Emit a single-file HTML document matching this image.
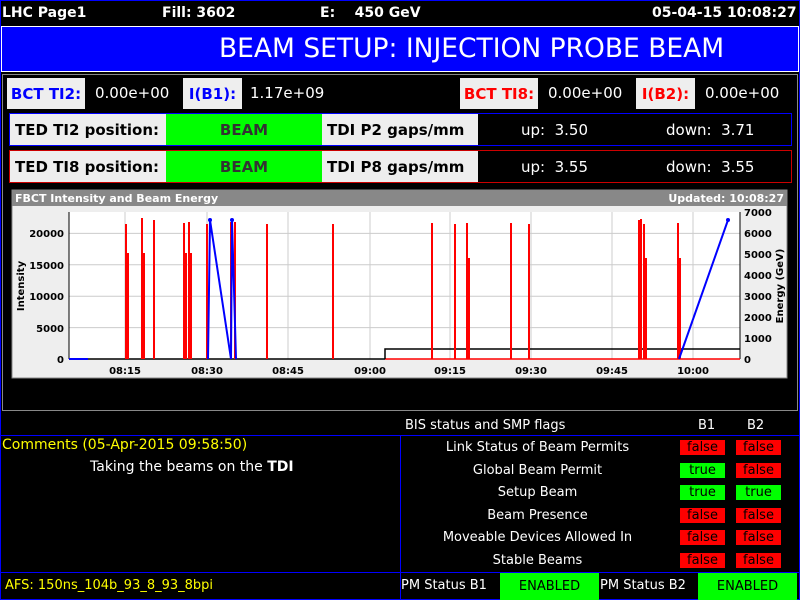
<!DOCTYPE html>
<html><head><meta charset="utf-8"><style>
*{margin:0;padding:0;box-sizing:border-box}
body{width:800px;height:600px;background:#000;position:relative;overflow:hidden;font-family:"DejaVu Sans","Liberation Sans",sans-serif;color:#fff}
.a{position:absolute;white-space:nowrap}
.b{font-weight:bold}
.lbl{background:#eee;font-weight:bold;font-size:15px;display:flex;align-items:center;justify-content:center}
.val{font-size:15px}
.row{position:absolute;left:9px;width:783px;height:33px}
.cell{position:absolute;top:0;height:31px;display:flex;align-items:center;font-size:15px}
.badge{position:absolute;width:45px;height:15px;font-size:13px;color:#000;text-align:center;line-height:15px}
.r{background:#f00}.g{background:#0f0}
.fl{position:absolute;left:400px;width:275px;text-align:center;font-size:13px}
</style></head><body>
<div class="a" style="left:0;top:0;width:800px;height:600px;border:1px solid #00f"></div>
<div class="a b" style="left:2px;top:5px;font-size:14px">LHC Page1</div>
<div class="a b" style="left:162px;top:5px;font-size:14px">Fill: 3602</div>
<div class="a b" style="left:320px;top:5px;font-size:14px">E:&nbsp;&nbsp;&nbsp;&nbsp;450 GeV</div>
<div class="a b" style="left:652px;top:5px;font-size:14px">05-04-15 10:08:27</div>
<div class="a" style="left:1px;top:26px;width:798px;height:46px;background:#00f;border:1px solid #fff"></div>
<div class="a" style="left:219px;top:31px;font-size:26.5px;line-height:36px">BEAM SETUP: INJECTION PROBE BEAM</div>
<div class="a" style="left:2px;top:74px;width:796px;height:337px;border:1px solid #888"></div>
<div class="a lbl" style="left:7px;top:78px;width:78px;height:31px;color:#00f">BCT TI2:</div>
<div class="a val" style="left:95px;top:84px">0.00e+00</div>
<div class="a lbl" style="left:183px;top:78px;width:59px;height:31px;color:#00f">I(B1):</div>
<div class="a val" style="left:250px;top:84px">1.17e+09</div>
<div class="a lbl" style="left:460px;top:78px;width:78px;height:31px;color:#f00">BCT TI8:</div>
<div class="a val" style="left:548px;top:84px">0.00e+00</div>
<div class="a lbl" style="left:636px;top:78px;width:59px;height:31px;color:#f00">I(B2):</div>
<div class="a val" style="left:705px;top:84px">0.00e+00</div>

<div class="row" style="top:113px;border:1px solid #00f">
<div class="cell b" style="left:0;width:156px;background:#eee;color:#000;padding-left:5px">TED TI2 position:</div>
<div class="cell b" style="left:156px;width:156px;background:#0f0;color:#333;justify-content:center">BEAM</div>
<div class="cell b" style="left:312px;width:156px;background:#eee;color:#000;padding-left:5px">TDI P2 gaps/mm</div>
<div class="cell" style="left:511px">up:&nbsp;&nbsp;3.50</div>
<div class="cell" style="left:656px">down:&nbsp;&nbsp;3.71</div>
</div>
<div class="row" style="top:150px;border:1px solid #c00">
<div class="cell b" style="left:0;width:156px;background:#eee;color:#000;padding-left:5px">TED TI8 position:</div>
<div class="cell b" style="left:156px;width:156px;background:#0f0;color:#333;justify-content:center">BEAM</div>
<div class="cell b" style="left:312px;width:156px;background:#eee;color:#000;padding-left:5px">TDI P8 gaps/mm</div>
<div class="cell" style="left:511px">up:&nbsp;&nbsp;3.55</div>
<div class="cell" style="left:656px">down:&nbsp;&nbsp;3.55</div>
</div>

<svg class="a" style="left:0;top:0" width="800" height="600" font-family="DejaVu Sans, sans-serif">
<rect x="12" y="190" width="775" height="188" fill="#eee" stroke="#888"/>
<rect x="12" y="190" width="775" height="16" fill="#888"/>
<text x="15" y="202" font-size="11" fill="#fff" font-weight="bold">FBCT Intensity and Beam Energy</text>
<text x="784" y="202" font-size="11" fill="#fff" font-weight="bold" text-anchor="end">Updated: 10:08:27</text>
<rect x="69" y="212" width="671" height="147" fill="#fff"/>
<g stroke="#ccc" stroke-width="1">
<line x1="69" x2="740" y1="327.6" y2="327.6"/><line x1="69" x2="740" y1="296.2" y2="296.2"/><line x1="69" x2="740" y1="264.8" y2="264.8"/><line x1="69" x2="740" y1="233.4" y2="233.4"/>
<line x1="125" x2="125" y1="212" y2="359"/><line x1="207" x2="207" y1="212" y2="359"/><line x1="288" x2="288" y1="212" y2="359"/><line x1="370" x2="370" y1="212" y2="359"/><line x1="450" x2="450" y1="212" y2="359"/><line x1="531" x2="531" y1="212" y2="359"/><line x1="612" x2="612" y1="212" y2="359"/><line x1="693" x2="693" y1="212" y2="359"/>
</g>
<g stroke="#000"><line x1="69" y1="212" x2="69" y2="359"/><line x1="740" y1="212" x2="740" y2="359"/><line x1="69" y1="359" x2="740" y2="359"/></g>
<g font-size="10" font-weight="bold" fill="#000" text-anchor="end">
<text x="64" y="363">0</text><text x="64" y="332">5000</text><text x="64" y="300">10000</text><text x="64" y="269">15000</text><text x="64" y="237">20000</text>
</g>
<g font-size="10" font-weight="bold" fill="#000">
<text x="744" y="363">0</text><text x="744" y="342">1000</text><text x="744" y="321">2000</text><text x="744" y="300">3000</text><text x="744" y="279">4000</text><text x="744" y="258">5000</text><text x="744" y="237">6000</text><text x="744" y="216">7000</text>
</g>
<g font-size="10" font-weight="bold" fill="#000" text-anchor="middle">
<text x="125" y="374">08:15</text><text x="207" y="374">08:30</text><text x="288" y="374">08:45</text><text x="370" y="374">09:00</text><text x="450" y="374">09:15</text><text x="531" y="374">09:30</text><text x="612" y="374">09:45</text><text x="693" y="374">10:00</text>
</g>
<text transform="translate(24,286) rotate(-90)" font-size="10" font-weight="bold" fill="#000" text-anchor="middle">Intensity</text>
<text transform="translate(783,286) rotate(-90)" font-size="10" font-weight="bold" fill="#000" text-anchor="middle">Energy (GeV)</text>
<line x1="88" y1="359" x2="385" y2="359" stroke="#000" stroke-width="1.5"/>
<line x1="385" y1="359" x2="740" y2="359" stroke="#f00" stroke-width="1.5"/>
<polyline points="385,359 385,349 740,349" fill="none" stroke="#000" stroke-width="1.5"/>
<g stroke="#f00" stroke-width="2">
<line x1="126" y1="359" x2="126" y2="224"/><line x1="128" y1="359" x2="128" y2="253"/>
<line x1="142" y1="359" x2="142" y2="218"/><line x1="144" y1="359" x2="144" y2="253"/>
<line x1="154" y1="359" x2="154" y2="220"/>
<line x1="184" y1="359" x2="184" y2="223"/><line x1="186" y1="359" x2="186" y2="253"/>
<line x1="189" y1="359" x2="189" y2="222"/><line x1="191" y1="359" x2="191" y2="253"/>
<line x1="207" y1="359" x2="207" y2="224"/>
<line x1="231" y1="359" x2="231" y2="222"/><line x1="235" y1="359" x2="235" y2="222"/>
<line x1="267" y1="359" x2="267" y2="224"/><line x1="333" y1="359" x2="333" y2="224"/>
<line x1="432" y1="359" x2="432" y2="223"/><line x1="455" y1="359" x2="455" y2="224"/>
<line x1="467" y1="359" x2="467" y2="223"/><line x1="469" y1="359" x2="469" y2="258"/>
<line x1="511" y1="359" x2="511" y2="223"/><line x1="529" y1="359" x2="529" y2="224"/>
<line x1="639" y1="359" x2="639" y2="220"/><line x1="641" y1="359" x2="641" y2="219"/>
<line x1="644" y1="359" x2="644" y2="224"/><line x1="646" y1="359" x2="646" y2="258"/>
<line x1="678" y1="359" x2="678" y2="223"/><line x1="680" y1="359" x2="680" y2="258"/>
</g>
<g stroke="#00f" stroke-width="2" fill="none">
<line x1="69" y1="359" x2="88" y2="359"/>
<polyline points="208,359 210,220 231,359 232,220 236,359"/>
<line x1="679" y1="359" x2="728" y2="220"/>
</g>
<g fill="#00f"><circle cx="210" cy="220" r="2"/><circle cx="232" cy="220" r="2"/><circle cx="728" cy="220" r="2"/></g>
</svg>

<div class="a" style="left:405px;top:418px;font-size:13px">BIS status and SMP flags</div>
<div class="a" style="left:698px;top:418px;font-size:13px">B1</div>
<div class="a" style="left:747px;top:418px;font-size:13px">B2</div>
<div class="a" style="left:0;top:435px;width:401px;height:138px;border:1px solid #00f"></div>
<div class="a" style="left:400px;top:435px;width:400px;height:138px;border:1px solid #00f"></div>
<div class="a" style="left:2px;top:437px;font-size:14px;color:#ff0">Comments (05-Apr-2015 09:58:50)</div>
<div class="a" style="left:90px;top:459px;font-size:14px">Taking the beams on the <b>TDI</b></div>
<div class="fl" style="top:440px">Link Status of Beam Permits</div>
<div class="fl" style="top:463px">Global Beam Permit</div>
<div class="fl" style="top:485px">Setup Beam</div>
<div class="fl" style="top:508px">Beam Presence</div>
<div class="fl" style="top:530px">Moveable Devices Allowed In</div>
<div class="fl" style="top:553px">Stable Beams</div>
<div class="badge r" style="left:680px;top:440px">false</div><div class="badge r" style="left:736px;top:440px">false</div>
<div class="badge g" style="left:680px;top:463px">true</div><div class="badge r" style="left:736px;top:463px">false</div>
<div class="badge g" style="left:680px;top:485px">true</div><div class="badge g" style="left:736px;top:485px">true</div>
<div class="badge r" style="left:680px;top:508px">false</div><div class="badge r" style="left:736px;top:508px">false</div>
<div class="badge r" style="left:680px;top:530px">false</div><div class="badge r" style="left:736px;top:530px">false</div>
<div class="badge r" style="left:680px;top:553px">false</div><div class="badge r" style="left:736px;top:553px">false</div>
<div class="a" style="left:0;top:572px;width:401px;height:28px;border:1px solid #00f"></div>
<div class="a" style="left:5px;top:578px;font-size:13px;color:#ff0">AFS: 150ns_104b_93_8_93_8bpi</div>
<div class="a" style="left:401px;top:578px;font-size:13px">PM Status B1</div>
<div class="a" style="left:500px;top:573px;width:99px;height:27px;background:#0f0;color:#000;font-size:13px;text-align:center;line-height:27px">ENABLED</div>
<div class="a" style="left:600px;top:578px;font-size:13px">PM Status B2</div>
<div class="a" style="left:698px;top:573px;width:99px;height:27px;background:#0f0;color:#000;font-size:13px;text-align:center;line-height:27px">ENABLED</div>
</body></html>
